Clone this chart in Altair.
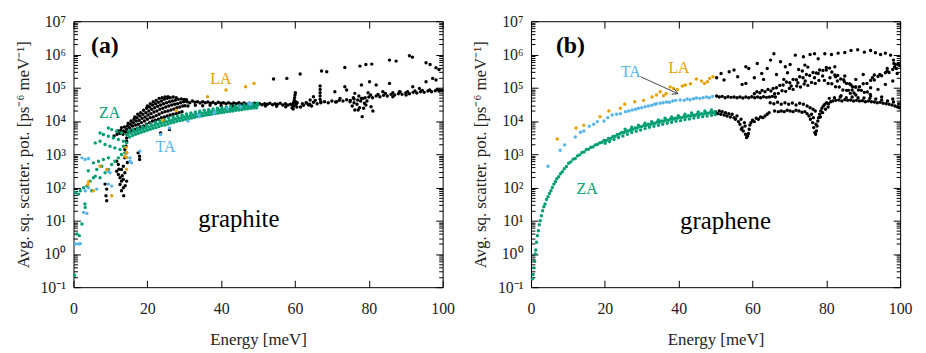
import altair as alt
import pandas as pd

FONT = "Liberation Serif"
GREEN, BLUE, ORANGE, BLACK = "#009e73", "#56b4e9", "#e69f00", "#000000"

# ---------------- data: (energy meV, log10 of avg. sq. scattering potential) ----------------
# panel (a) graphite
a_black = [
    (8.55,2.10),(9.0,1.95),(8.8,1.75),(9.0,1.60),
    (11.7,2.79),(12.15,2.69),(11.7,2.49),(12.15,2.39),(12.6,2.29),(13.0,2.19),(12.6,2.09),(13.5,2.24),
    (13.5,1.99),(13.9,2.44),(13.6,1.75),(13.0,2.54),(13.5,2.64),(14.4,2.19),(13.0,1.90),(12.3,2.55),
    (13.2,2.35),(14.0,2.05),(13.9,3.14),(14.4,3.04),(13.9,2.89),(14.2,3.24),(14.4,3.39),(14.4,3.49),
    (14.6,2.75),(17.5,3.04),(17.9,2.94),(17.9,2.84),(23.6,3.64),(26.0,3.74),
    (11.0,3.55),(11.8,3.60),(12.0,3.70),(12.6,3.62),(12.8,3.72),(13.0,3.80),(13.4,3.60),(13.6,3.70),(13.8,3.82),
    (14.2,3.65),(14.4,3.75),(14.6,3.85),(14.8,3.93),(15.0,3.68),(15.2,3.80),(15.4,3.90),(15.6,4.00),
    (15.8,3.72),(16.0,3.85),(16.2,3.95),(16.4,4.05),(16.6,4.12),(16.6,3.75),(16.8,3.88),(17.0,4.00),(17.2,4.10),(17.4,4.20),
    (17.4,3.78),(17.6,3.90),(17.8,4.02),(18.0,4.15),(18.2,4.25),(18.2,3.82),(18.4,3.95),(18.6,4.08),(18.8,4.20),(19.0,4.32),
    (19.0,3.85),(19.2,4.00),(19.4,4.12),(19.6,4.25),(19.8,4.38),(20.0,4.45),(19.8,3.90),(20.0,4.05),(20.2,4.18),(20.4,4.30),(20.6,4.42),(20.8,4.52),
    (20.6,3.95),(20.8,4.10),(21.0,4.22),(21.2,4.35),(21.4,4.48),(21.6,4.58),(21.4,4.00),(21.6,4.12),(21.8,4.27),(22.0,4.40),(22.2,4.52),(22.4,4.62),
    (22.2,4.02),(22.4,4.16),(22.6,4.30),(22.8,4.44),(23.0,4.56),(23.2,4.68),(23.0,4.05),(23.2,4.20),(23.4,4.35),(23.6,4.48),(23.8,4.60),(24.0,4.70),
    (23.8,4.10),(24.0,4.25),(24.2,4.38),(24.4,4.52),(24.6,4.65),(24.8,4.72),(24.6,4.12),(24.8,4.28),(25.0,4.42),(25.2,4.55),(25.4,4.68),(25.6,4.73),
    (25.4,4.15),(25.6,4.30),(25.8,4.45),(26.0,4.58),(26.2,4.70),(26.2,4.18),(26.4,4.33),(26.6,4.48),(26.8,4.60),(27.0,4.72),
    (27.0,4.20),(27.2,4.36),(27.4,4.50),(27.6,4.62),(27.8,4.70),(27.8,4.22),(28.0,4.40),(28.2,4.52),(28.4,4.65),
    (28.6,4.25),(28.8,4.42),(29.0,4.55),(29.2,4.66),(29.4,4.28),(29.6,4.45),(29.8,4.58),(30.0,4.65),(30.2,4.46),(30.4,4.60),(30.6,4.64),
    (30.8,4.58),(31.5,4.55),(32.2,4.60),(32.9,4.56),(33.6,4.58),(34.3,4.54),(35.0,4.58),(35.7,4.55),(36.4,4.57),(37.1,4.53),
    (37.8,4.56),(38.5,4.52),(39.2,4.56),(39.9,4.53),(40.6,4.55),(41.3,4.52),(42.0,4.55),(42.7,4.51),(43.4,4.54),(44.1,4.52),
    (44.8,4.55),(45.5,4.51),(46.2,4.54),(46.9,4.50),(47.6,4.53),(48.3,4.50),(49.0,4.53),(49.7,4.50),(50.4,4.52),(51.1,4.49),
    (51.8,4.52),(52.5,4.50),(53.2,4.53),(53.9,4.49),(54.6,4.52),(55.3,4.50),(56.0,4.53),(56.7,4.48),(57.4,4.52),(58.1,4.48),(58.8,4.50),
    (31.0,4.45),(33.0,4.47),(35.0,4.46),(37.0,4.47),(40.0,4.46),(43.0,4.45),(46.0,4.47),(49.0,4.46),(52.0,4.45),(55.0,4.44),(57.5,4.43),
    (59.2,4.40),(59.4,4.48),(59.6,4.55),(59.8,4.62),(59.9,4.70),(60.0,4.78),(60.1,4.85),(59.7,4.45),(60.3,4.50),(60.5,4.42),
    (60.2,4.58),(59.5,4.36),(60.6,4.55),
    (62.0,4.52),(63.0,4.55),(64.0,4.50),(65.0,4.56),(66.0,4.52),(67.0,4.55),(68.0,4.58),(69.0,4.55),(70.0,4.60),(71.0,4.57),
    (72.0,4.62),(73.0,4.60),(74.0,4.64),(75.0,4.62),(76.0,4.66),(77.0,4.63),(78.0,4.68),(79.0,4.70),(80.0,4.72),(81.0,4.70),
    (82.0,4.75),(83.0,4.73),(84.0,4.77),(85.0,4.75),(86.0,4.80),(87.0,4.78),(88.0,4.82),(89.0,4.80),(90.0,4.84),(91.0,4.82),
    (92.0,4.86),(93.0,4.84),(94.0,4.88),(95.0,4.86),(96.0,4.90),(97.0,4.88),(98.0,4.91),(99.0,4.90),(99.8,4.92),
    (80.5,4.78),(82.5,4.80),(84.5,4.83),(86.5,4.85),(88.5,4.87),(90.5,4.88),(92.5,4.90),(94.5,4.92),(96.5,4.93),(98.5,4.95),
    (63.2,4.53),(64.1,4.63),(65.0,4.73),(63.7,4.48),(66.8,5.05),(66.8,4.95),(66.8,4.85),(66.8,4.75),(66.8,4.65),(67.0,4.58),
    (70.8,4.88),(72.2,4.68),(71.3,4.58),(73.5,5.03),(74.0,4.93),(74.9,4.58),(76.2,4.83),(76.2,4.33),(77.1,4.33),(78.0,5.08),
    (78.2,4.13),(78.4,4.68),(78.8,4.53),(79.2,4.48),(80.2,5.18),(80.6,4.43),(81.1,4.30),(82.0,5.08),(83.8,4.88),(85.6,5.13),
    (86.5,4.73),(88.3,4.88),(90.1,4.78),(91.9,5.03),(93.7,4.98),(95.5,5.18),(97.3,5.28),(98.2,5.23),(99.1,4.93),
    (75.5,4.45),(76.0,4.55),(76.8,4.50),(77.5,4.40),(77.8,4.60),(78.6,4.38),(79.5,4.60),(77.3,4.75),(75.8,4.70),(79.8,4.85),
    (61.5,4.42),(62.3,4.47),(64.5,4.45),(65.5,4.62),
    (54.2,5.26),(57.8,5.28),(61.4,5.41),(67.2,5.50),(68.6,5.48),(73.5,5.61),(77.6,5.65),(79.2,5.70),(80.8,5.71),
    (85.6,5.83),(87.4,5.80),(91.0,5.96),(91.8,5.92),(95.5,5.75),(96.6,5.70),(98.2,5.60),(99.0,5.55),
]
a_za = [
    (0.3,-0.64),(0.94,0.60),(1.57,0.55),(2.28,0.90),(3.18,1.40),(1.39,1.80),(0.49,1.85),(1.84,1.90),(2.73,1.99),
    (3.63,2.04),(4.5,2.19),(5.4,2.29),(4.97,1.90),(5.9,2.34),(5.4,2.74),(6.76,2.79),(8.1,2.84),(9.45,2.89),(6.3,2.54),
    (7.66,2.64),(7.2,2.29),(8.55,2.44),(9.45,2.54),(10.35,2.69),(11.2,2.79),(12.15,2.89),(13.0,2.99),(13.9,3.04),
    (5.9,3.34),(7.2,3.39),(8.55,3.29),(9.9,3.24),(11.2,3.19),(12.6,3.14),(13.5,3.24),(14.4,3.34),(7.2,3.64),(8.1,3.59),
    (9.45,3.54),(10.8,3.49),(12.15,3.44),(13.5,3.39),(9.45,3.79),(10.35,3.74),(11.7,3.69),(13.0,3.64),(14.4,3.59),
    (3.1,1.50),(4.0,2.50),
    (14.8,3.60),(15.6,3.64),(16.4,3.67),(17.2,3.70),(18.0,3.73),(18.8,3.76),(19.6,3.79),(20.4,3.82),(21.2,3.85),(22.0,3.88),
    (22.8,3.90),(23.6,3.93),(24.4,3.96),(25.2,3.98),(26.0,4.01),(26.8,4.03),(27.6,4.06),(28.4,4.08),(29.2,4.10),(30.0,4.12),
    (30.8,4.14),(31.6,4.16),(32.4,4.18),(33.2,4.20),(34.0,4.22),(34.8,4.23),(35.6,4.25),(36.4,4.26),(37.2,4.28),(38.0,4.29),
    (38.8,4.31),(39.6,4.32),(40.4,4.33),(41.2,4.35),(42.0,4.36),(42.8,4.37),(43.6,4.38),(44.4,4.40),(45.2,4.41),(46.0,4.42),
    (46.8,4.44),(47.6,4.45),(48.4,4.46),(49.2,4.47),(50.0,4.48),
    (15.2,3.52),(16.0,3.56),(16.8,3.60),(17.6,3.63),(18.4,3.66),(19.2,3.69),(20.0,3.72),(20.8,3.75),(21.6,3.78),(22.4,3.80),
    (23.2,3.83),(24.0,3.86),(24.8,3.88),(25.6,3.91),(26.4,3.94),(27.2,3.96),(28.0,3.99),(28.8,4.01),(29.6,4.03),(30.4,4.05),
    (31.2,4.07),(32.0,4.09),(32.8,4.11),(33.6,4.13),(34.4,4.14),(35.2,4.16),(36.0,4.18),(36.8,4.19),(37.6,4.21),(38.4,4.22),
    (39.2,4.24),(40.0,4.25),(40.8,4.26),(41.6,4.28),(42.4,4.29),(43.2,4.30),(44.0,4.32),(44.8,4.33),(45.6,4.34),(46.4,4.36),
    (47.2,4.37),(48.0,4.38),(48.8,4.39),(49.6,4.40),
    (15.0,3.70),(16.2,3.74),(17.4,3.78),(18.6,3.83),(19.8,3.87),(21.0,3.92),(22.2,3.96),(23.4,4.00),(24.6,4.04),(25.8,4.08),
    (27.0,4.12),(28.2,4.15),(29.4,4.18),(30.6,4.21),(31.8,4.24),(33.0,4.27),(34.2,4.29),(35.4,4.32),(36.6,4.34),(37.8,4.36),
    (39.0,4.38),(40.2,4.40),(41.4,4.42),(42.6,4.44),(43.8,4.45),(45.0,4.47),(46.2,4.49),(47.4,4.50),(48.6,4.52),(49.8,4.53),
]
a_ta = [
    (0.5,0.30),(1.4,0.30),(1.84,0.31),(2.73,1.25),(3.63,1.22),(3.18,1.90),(4.07,1.99),(2.3,2.89),(3.18,2.84),(4.07,2.87),
    (6.3,1.95),(9.45,2.49),(9.9,2.44),(9.45,2.10),(10.35,2.04),(15.3,2.79),(15.7,2.74),(15.3,2.89),(18.0,3.09),(23.6,3.59),
    (26.0,3.79),(31.0,4.00),(33.8,4.19),(34.1,4.13),(38.1,4.23),(38.3,4.28),(41.7,4.38),(45.3,4.43),(47.5,4.53),(48.0,4.50),
]
a_la = [
    (36.3,4.73),(41.3,4.93),(46.6,5.03),(48.9,5.13),(27.8,4.32),(24.2,4.02),(14.4,2.90),(14.4,3.05),(14.2,3.20),(13.9,2.94),
    (14.4,2.55),(10.35,1.75),(7.2,2.64),(4.1,2.17),(5.4,1.90),(9.0,2.54),(3.9,2.08),
]

# panel (b) graphene
b_black = [
    (50.0,4.27),(50.5,4.22),(51.0,4.30),(51.4,4.20),(51.8,4.28),(52.3,4.18),(52.7,4.25),(53.1,4.15),(53.6,4.22),(54.0,4.12),
    (54.5,4.20),(55.0,4.10),(55.4,4.05),(55.8,4.15),(56.2,3.98),(56.6,3.90),(56.9,4.05),(57.2,3.80),(57.5,3.70),(57.8,3.95),
    (58.1,3.60),(58.4,3.50),(58.7,3.55),(58.9,3.62),(59.1,3.75),(59.3,3.88),(58.0,3.85),(57.0,3.75),
    (59.6,3.95),(60.0,4.02),(60.5,3.98),(61.0,4.08),(61.6,4.05),(62.2,4.12),(62.8,4.10),(63.4,4.15),(64.0,4.20),(64.5,4.25),
    (66.0,4.30),(67.0,4.28),(67.8,4.30),(68.6,4.28),(69.4,4.32),(70.2,4.30),(71.0,4.28),(71.8,4.32),(72.6,4.30),(73.4,4.26),
    (74.2,4.28),(74.8,4.22),(75.3,4.15),(75.7,4.05),(76.0,4.20),(76.3,3.95),(76.6,3.80),(76.9,3.65),(77.1,3.60),(77.3,3.70),
    (77.5,3.85),(77.7,4.00),(77.9,4.10),(76.5,4.10),(77.2,3.90),
    (78.2,4.20),(78.5,4.30),(78.8,4.38),(79.2,4.45),(79.6,4.50),(80.1,4.55),(80.6,4.52),(81.2,4.58),(78.4,4.12),(79.0,4.25),
    (79.8,4.35),(80.5,4.42),
    (81.8,4.60),(82.6,4.62),(83.4,4.63),(84.2,4.60),(85.0,4.64),(85.8,4.62),(86.6,4.63),(87.4,4.60),(88.2,4.62),(89.0,4.60),
    (89.8,4.61),(90.6,4.58),(91.4,4.60),(92.2,4.58),(93.0,4.57),(93.8,4.55),(94.6,4.56),(95.4,4.53),(96.2,4.52),(97.0,4.50),
    (97.8,4.48),(98.6,4.45),(99.3,4.42),(99.8,4.40),
    (80.8,4.68),(82.2,4.70),(83.8,4.72),(85.4,4.70),(87.0,4.72),(88.6,4.70),(90.2,4.69),(91.8,4.68),(93.4,4.66),(95.0,4.63),
    (96.6,4.60),(98.2,4.57),(99.6,4.52),
    (64.8,4.55),(65.8,4.52),(66.8,4.56),(67.8,4.50),(68.8,4.55),(69.8,4.50),(70.8,4.54),(71.8,4.48),(72.8,4.53),(73.8,4.50),
    (74.8,4.45),(75.6,4.40),(76.4,4.35),(77.0,4.30),
    (50.3,4.75),(51.0,4.72),(51.8,4.74),(52.6,4.70),(53.4,4.73),(54.2,4.71),(55.0,4.72),(55.8,4.70),(56.6,4.72),(57.4,4.69),
    (58.2,4.72),(59.0,4.70),(59.8,4.73),(60.6,4.70),(61.4,4.72),(62.2,4.70),(63.0,4.73),(63.8,4.71),(64.6,4.72),(65.4,4.74),
    (66.2,4.72),(60.5,4.82),(61.2,4.88),(62.0,4.85),(62.6,4.92),(63.4,4.88),(64.2,4.95),(65.0,4.90),(65.6,4.98),
    (66.5,5.00),(67.4,5.07),(68.3,5.08),(69.2,5.17),(70.1,5.15),(71.0,5.25),(71.9,5.24),(72.8,5.33),(73.7,5.30),(74.6,5.40),
    (75.5,5.37),(76.4,5.46),(77.3,5.44),(78.2,5.53),(79.1,5.52),(80.0,5.61),(80.9,5.59),
    (66.0,4.82),(67.0,4.83),(68.0,4.91),(69.0,4.89),(70.0,4.98),(71.0,4.95),(72.0,5.05),(73.0,5.02),(74.0,5.11),(75.0,5.07),
    (76.0,5.16),(77.0,5.13),(78.0,5.22),
    (81.5,5.47),(82.3,5.38),(83.1,5.37),(83.9,5.26),(84.7,5.24),(85.5,5.13),(86.3,5.12),(87.1,5.03),(87.9,5.02),(88.7,4.93),
    (89.5,4.92),(90.3,4.86),(91.1,4.87),(91.9,4.80),
    (79.5,5.22),(80.5,5.13),(81.5,5.12),(82.5,5.03),(83.5,5.02),(84.5,4.93),(85.5,4.92),(86.5,4.83),(87.5,4.84),
    (86.0,4.92),(87.0,4.93),(88.0,5.02),(89.0,5.03),(90.0,5.12),(91.0,5.13),(92.0,5.22),(93.0,5.23),(94.0,5.34),(95.0,5.36),
    (96.0,5.45),(97.0,5.46),(98.0,5.55),(99.0,5.58),(99.8,5.67),(92.5,5.30),(94.5,5.40),(96.5,5.50),(98.5,5.62),(99.5,5.72),
    (68.5,5.25),(70.5,5.05),(72.3,5.15),(74.3,5.20),(76.8,5.30),(79.0,5.35),(81.0,5.30),(83.0,5.20),(85.0,5.35),(88.0,5.25),
    (90.0,5.40),(92.0,5.00),(94.0,4.95),(96.0,5.10),(98.0,5.20),(84.0,4.76),(88.0,4.78),(92.0,4.75),(95.0,4.72),(98.0,4.66),
    (50.3,5.30),(51.5,5.43),(52.3,5.23),(53.7,5.48),(55.0,5.53),(56.0,5.33),(58.2,5.63),(59.0,5.58),(61.3,5.73),(62.5,5.43),
    (64.0,5.58),(64.9,5.83),(65.8,6.02),(67.6,5.78),(68.9,5.63),(70.2,5.70),(71.6,5.98),(73.8,5.93),(74.2,5.68),(75.6,6.00),
    (76.8,6.02),(77.8,5.87),(79.6,6.02),(81.4,6.00),(83.2,6.04),(85.0,6.06),(86.7,6.12),(88.5,6.14),(90.3,6.07),(92.0,6.12),
    (93.3,6.05),(94.7,6.00),(96.0,6.04),(97.4,5.98),(98.2,5.83),(98.7,5.70),(99.2,5.43),
    (57.2,5.10),(58.2,5.13),(60.5,5.30),(63.0,5.25),(66.5,5.40),(69.5,5.45),(72.5,5.55),(73.5,5.50),(75.0,5.62),
    (77.8,5.43),(80.0,5.53),(82.3,5.63),(82.5,5.33),(84.9,5.18),(86.7,5.08),(93.0,5.38),(96.5,5.58),(98.3,5.73),
]
b_za = [
    (0.4,-0.75),(0.6,-0.62),(0.8,-0.42),(1.0,-0.22),(1.15,0.0),(1.3,0.12),(1.5,0.35),(1.75,0.55),(2.0,0.70),(2.25,0.88),
    (2.5,1.00),(2.8,1.15),(3.15,1.30),(3.5,1.42),(3.8,1.50),(4.2,1.64),(4.6,1.72),(5.0,1.82),(5.4,1.90),(5.8,2.00),
    (6.2,2.10),(6.6,2.17),(7.0,2.26),(7.5,2.32),(8.0,2.41),(8.5,2.47),(9.0,2.56),(9.6,2.63),(10.2,2.73),(10.8,2.77),
    (11.4,2.85),(12.0,2.87),(12.6,2.95),(13.2,2.98),(13.8,3.05),(14.4,3.07),(15.0,3.14),(15.6,3.15),(16.2,3.21),(16.8,3.22),
    (17.4,3.28),(18.0,3.29),(18.6,3.34),(19.2,3.36),(19.8,3.41),(20.4,3.41),(21.0,3.47),(21.6,3.47),(22.2,3.53),(22.8,3.54),
    (23.4,3.59),(24.0,3.61),(24.6,3.65),(25.2,3.65),(25.8,3.70),(26.4,3.70),(27.0,3.74),(27.6,3.75),(28.2,3.79),(28.8,3.79),
    (29.4,3.83),(30.0,3.83),(30.6,3.87),(31.2,3.86),(31.8,3.90),(32.4,3.90),(33.0,3.93),(33.6,3.93),(34.2,3.97),(34.8,3.96),
    (35.4,4.00),(36.0,3.99),(36.6,4.03),(37.2,4.02),(37.8,4.06),(38.4,4.05),(39.0,4.08),(39.6,4.08),(40.2,4.11),(40.8,4.10),
    (41.4,4.13),(42.0,4.12),(42.6,4.16),(43.2,4.15),(43.8,4.18),(44.4,4.17),(45.0,4.20),(45.6,4.19),(46.2,4.22),(46.8,4.21),
    (47.4,4.24),(48.0,4.23),(48.6,4.26),(49.2,4.25),(49.8,4.28),
    (20.1,3.33),(21.3,3.38),(22.5,3.44),(23.7,3.50),(24.9,3.55),(26.1,3.60),(27.3,3.65),(28.5,3.69),(29.7,3.73),(30.9,3.77),
    (32.1,3.81),(33.3,3.84),(34.5,3.87),(35.7,3.90),(36.9,3.93),(38.1,3.96),(39.3,3.99),(40.5,4.01),(41.7,4.04),(42.9,4.06),
    (44.1,4.09),(45.3,4.11),(46.5,4.13),(47.7,4.15),(48.9,4.17),(49.9,4.19),
    (25.5,3.75),(27.3,3.81),(29.1,3.87),(30.9,3.93),(32.7,3.98),(34.5,4.03),(36.3,4.08),(38.1,4.12),(39.9,4.16),(41.7,4.20),
    (43.5,4.24),(45.3,4.27),(47.1,4.30),(48.9,4.33),
]
b_ta = [
    (4.6,2.64),(7.9,3.12),(9.1,3.28),(12.0,3.52),(13.4,3.66),(14.3,3.70),(15.8,3.84),(17.0,3.90),(18.0,3.98),(19.8,4.00),
    (20.8,4.10),(22.0,4.18),(23.2,4.20),(24.2,4.22),(25.6,4.28),(26.5,4.30),(27.4,4.33),(28.3,4.35),(29.1,4.38),(30.0,4.40),
    (30.9,4.43),(31.8,4.45),(32.7,4.47),(33.5,4.50),(34.0,4.52),(35.0,4.53),(35.8,4.55),(36.7,4.57),(37.5,4.56),(38.4,4.60),
    (39.2,4.62),(40.4,4.63),(41.5,4.62),(42.3,4.66),(43.1,4.64),(44.0,4.67),(44.8,4.69),(45.7,4.68),(46.6,4.70),(47.5,4.72),
    (48.3,4.70),(49.2,4.74),
]
b_la = [
    (7.1,3.46),(12.2,3.79),(14.3,3.87),(18.7,4.13),(21.1,4.30),(24.2,4.38),(25.4,4.50),(28.1,4.58),(30.5,4.62),(32.8,4.72),
    (34.0,4.78),(35.0,4.88),(35.9,4.76),(36.6,4.82),(37.7,5.02),(38.6,4.98),(39.7,4.95),(41.0,5.05),(41.8,5.08),(43.2,5.12),
    (44.8,5.26),(46.2,5.20),(47.0,5.13),(47.8,5.18),(48.4,5.28),(49.3,5.33),
]

# annotations: text, energy, log10 value, colour, font size
a_labels = [("LA", 39.9, 5.27, ORANGE, 16), ("ZA", 9.8, 4.25, GREEN, 16),
            ("TA", 24.9, 3.21, BLUE, 16), ("graphite", 44.8, 1.06, BLACK, 25)]
b_labels = [("TA", 27.0, 5.48, BLUE, 16), ("LA", 40.1, 5.60, ORANGE, 16),
            ("ZA", 15.2, 1.96, GREEN, 16), ("graphene", 52.7, 1.00, BLACK, 25)]
a_letter = [("(a)", 8.5, 6.25)]
b_letter = [("(b)", 10.7, 6.25)]
b_arrow = [(29.7, 5.33, 39.8, 4.82)]

X_TICKS = [0, 20, 40, 60, 80, 100]
Y_MAJOR = [10.0 ** k for k in range(-1, 8)]
Y_MINOR = [m * 10.0 ** k for k in range(-1, 7) for m in range(2, 10)]
Y_TICKS = sorted(Y_MAJOR + Y_MINOR)
Y_TITLE = "Avg. sq. scatter. pot. [ps\u207b\u2076 meV\u207b\u00b9]"

# ---------------- chart ----------------
def series(points, name):
    return pd.DataFrame({"E": [p[0] for p in points], "V": [10 ** p[1] for p in points], "s": name})

def labels_df(rows):
    return pd.DataFrame({"t": [r[0] for r in rows], "E": [r[1] for r in rows],
                         "V": [10 ** r[2] for r in rows], "c": [r[3] for r in rows], "fs": [r[4] for r in rows]})

IS_MAJOR = "abs(log(datum.value)/LN10 - round(log(datum.value)/LN10)) < 0.001"
SUP = "['\u207b\u00b9','\u2070','\u00b9','\u00b2','\u00b3','\u2074','\u2075','\u2076','\u2077']"
LABEL_EXPR = f"{IS_MAJOR} ? '10' + {SUP}[round(log(datum.value)/LN10) + 1] : ''"
TICK_Y = {"condition": {"test": IS_MAJOR, "value": -7}, "value": -4}
TICK_X = {"condition": {"test": "true", "value": -7}, "value": -7}

xscale = alt.Scale(domain=[0, 100], nice=False, zero=False)
yscale = alt.Scale(type="log", domain=[0.1, 1e7], nice=False)

def panel(black, za, ta, la, labels, letter, arrow=None):
    df = pd.concat([series(black, "other"), series(za, "ZA"), series(ta, "TA"), series(la, "LA")],
                   ignore_index=True)
    pts = alt.Chart(df).mark_circle(size=12, opacity=1).encode(
        x=alt.X("E:Q", scale=xscale, axis=alt.Axis(
            values=X_TICKS, tickSize=TICK_X, labelPadding=21, labelFlush=False, domain=False,
            grid=False, title="Energy [meV]", titlePadding=15, format="d")),
        y=alt.Y("V:Q", scale=yscale, axis=alt.Axis(
            values=Y_TICKS, labelExpr=LABEL_EXPR, tickSize=TICK_Y, labelPadding=15,
            labelOverlap=False, domain=False, grid=False, title=Y_TITLE, titlePadding=8)),
        color=alt.Color("s:N", legend=None, scale=alt.Scale(
            domain=["other", "ZA", "TA", "LA"], range=[BLACK, GREEN, BLUE, ORANGE])),
    )
    frame_axes = alt.Chart(pd.DataFrame({"E": [50], "V": [1.0]})).mark_point(opacity=0).encode(
        x=alt.X("E:Q", scale=xscale, axis=alt.Axis(
            orient="top", values=X_TICKS, tickSize=TICK_X, labels=False, domain=False, grid=False, title=None)),
        y=alt.Y("V:Q", scale=yscale, axis=alt.Axis(
            orient="right", values=Y_TICKS, tickSize=TICK_Y, labels=False, domain=False, grid=False, title=None)),
    )
    txt = alt.Chart(labels_df(labels)).mark_text(font=FONT).encode(
        x=alt.X("E:Q", axis=None), y=alt.Y("V:Q", axis=None), text="t:N",
        color=alt.Color("c:N", scale=None), size=alt.Size("fs:Q", scale=None))
    let = alt.Chart(pd.DataFrame({"t": [r[0] for r in letter], "E": [r[1] for r in letter],
                                  "V": [10 ** r[2] for r in letter]})).mark_text(
        font=FONT, fontSize=24, fontWeight="bold", color="black").encode(
        x=alt.X("E:Q", axis=None), y=alt.Y("V:Q", axis=None), text="t:N")
    layers = [pts, frame_axes, txt, let]
    if arrow:
        adf = pd.DataFrame({"E1": [a[0] for a in arrow], "V1": [10 ** a[1] for a in arrow],
                            "E2": [a[2] for a in arrow], "V2": [10 ** a[3] for a in arrow]})
        line = alt.Chart(adf).mark_rule(color="#333", strokeWidth=0.9).encode(
            x=alt.X("E1:Q", axis=None), y=alt.Y("V1:Q", axis=None), x2="E2:Q", y2="V2:Q")
        head = alt.Chart(adf).mark_point(shape="M-1,-0.55L0,0L-1,0.55", filled=False, color="#333",
                                         strokeWidth=0.9, size=120, angle=24, opacity=1).encode(
            x=alt.X("E2:Q", axis=None), y=alt.Y("V2:Q", axis=None))
        layers += [line, head]
    return alt.layer(*layers).resolve_axis(x="independent", y="independent").properties(width=372, height=268)

pa = panel(a_black, a_za, a_ta, a_la, a_labels, a_letter)
pb = panel(b_black, b_za, b_ta, b_la, b_labels, b_letter, b_arrow)

chart = alt.hconcat(pa, pb, spacing=15).properties(
    padding={"left": 5, "top": 3, "right": 5, "bottom": 3}
).configure_view(stroke="black", strokeWidth=1).configure_axis(
    labelFont=FONT, titleFont=FONT, labelFontSize=16, titleFontSize=17, labelColor="#222",
    titleColor="#222", titleFontWeight="normal", tickColor="black", tickWidth=1
)

chart.save("out.html", embed_options={"renderer": "svg", "actions": False})
